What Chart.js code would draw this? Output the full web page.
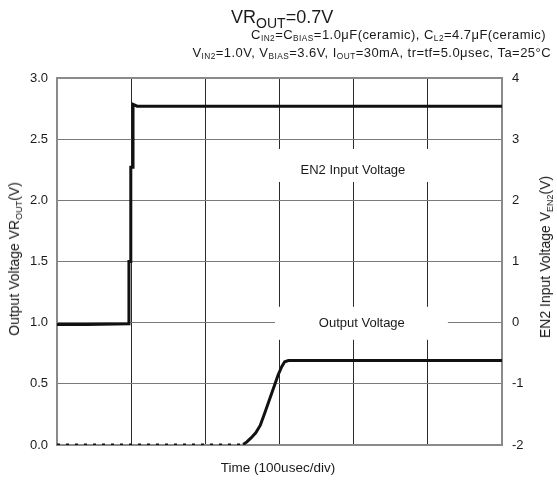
<!DOCTYPE html>
<html>
<head>
<meta charset="utf-8">
<script src="https://cdn.jsdelivr.net/npm/chart.js@4.4.1/dist/chart.umd.min.js"></script>
<style>
    body { margin: 0; background: #fff; }
    #wrap { position: relative; width: 557px; height: 482px; font-family: "Liberation Sans", Arial, sans-serif; color: #1a1a1a; }
    #wrap canvas { position: absolute; left: 0; top: 0; }
    .txt { position: absolute; white-space: nowrap; line-height: 1; }
    .txt sub { font-size: 64%; vertical-align: baseline; position: relative; top: 0.3em; }
    .main sub { font-size: 78%; top: 0.35em; }
    .rot { transform: translate(-50%, -50%) rotate(-90deg); }
</style>
</head>
<body>
<div id="wrap">
    <canvas id="chart" width="557" height="482"></canvas>
    <div class="txt main" style="left:231px; top:8px; font-size:18px;">VR<sub>OUT</sub>=0.7V</div>
    <div class="txt" style="right:11px; top:28px; font-size:13px; letter-spacing:0.45px;">C<sub>IN2</sub>=C<sub>BIAS</sub>=1.0μF(ceramic), C<sub>L2</sub>=4.7μF(ceramic)</div>
    <div class="txt" style="right:6px; top:46px; font-size:13px; letter-spacing:0.45px;">V<sub>IN2</sub>=1.0V, V<sub>BIAS</sub>=3.6V, I<sub>OUT</sub>=30mA, tr=tf=5.0μsec, Ta=25°C</div>
    <div class="txt rot" style="left:14px; top:259px; font-size:14px;">Output Voltage VR<sub>OUT</sub>(V)</div>
    <div class="txt rot" style="left:545px; top:257px; font-size:14px;">EN2 Input Voltage V<sub>EN2</sub>(V)</div>
    <div class="txt" style="left:278px; top:468px; font-size:13.5px; transform: translate(-50%, -50%);">Time (100usec/div)</div>
</div>
<script>
// EN2 input voltage (right axis, V) vs time (usec)
const enTime = [0, 40, 97, 97, 99.5, 99.5, 102.5, 102.5, 108, 150, 600];
const enVolt = [-0.03, -0.03, -0.02, 1.0, 1.0, 2.54, 2.54, 3.57, 3.54, 3.54, 3.54];

// output voltage VR_OUT (left axis, V) vs time (usec)
const outTime = [0, 251, 256, 262, 268, 274, 280, 287, 294, 298, 303, 307, 312, 320, 600];
const outVolt = [0.005, 0.005, 0.025, 0.06, 0.1, 0.16, 0.26, 0.38, 0.50, 0.57, 0.64, 0.68, 0.69, 0.69, 0.69];

const leftTicks = ['0.0', '0.5', '1.0', '1.5', '2.0', '2.5', '3.0'];
const rightTicks = ['-2', '-1', '0', '1', '2', '3', '4'];

const FONT = '"Liberation Sans", Arial, sans-serif';

// white label boxes that cut the grid, in data units (x: usec, y: left axis V)
const plotLabels = [
    { text: 'EN2 Input Voltage', tx: 399, vy: 2.245, t0: 290, t1: 511, v0: 2.42, v1: 2.15 },
    { text: 'Output Voltage', tx: 411, vy: 0.995, t0: 294, t1: 527, v0: 1.13, v1: 0.86 }
];

const labelPlugin = {
    id: 'labelPlugin',
    beforeDatasetsDraw(chart) {
        const { ctx, chartArea, scales: { x, y } } = chart;
        ctx.save();
        plotLabels.forEach(l => {
            const x0 = x.getPixelForValue(l.t0), x1 = x.getPixelForValue(l.t1);
            const y0 = y.getPixelForValue(l.v0), y1 = y.getPixelForValue(l.v1);
            ctx.fillStyle = '#ffffff';
            ctx.fillRect(x0, y0, x1 - x0, y1 - y0);
            ctx.fillStyle = '#1a1a1a';
            ctx.font = '13px ' + FONT;
            ctx.textAlign = 'center';
            ctx.textBaseline = 'middle';
            ctx.fillText(l.text, x.getPixelForValue(l.tx), y.getPixelForValue(l.vy));
        });
        ctx.strokeStyle = '#8a8a8a';
        ctx.lineWidth = 2;
        ctx.strokeRect(chartArea.left, chartArea.top, chartArea.right - chartArea.left, chartArea.bottom - chartArea.top);
        ctx.restore();
    }
};

const toPoints = (xs, ys) => xs.map((t, i) => ({ x: t, y: ys[i] }));

new Chart(document.getElementById('chart'), {
    type: 'line',
    data: {
        datasets: [
            {
                label: 'EN2 Input Voltage',
                data: toPoints(enTime, enVolt),
                yAxisID: 'y2',
                borderColor: '#111111',
                borderWidth: 3,
                pointRadius: 0,
                tension: 0
            },
            {
                label: 'Output Voltage',
                data: toPoints(outTime, outVolt),
                yAxisID: 'y',
                borderColor: '#111111',
                borderWidth: 3,
                pointRadius: 0,
                tension: 0,
                segment: {
                    borderDash: c => c.p1.parsed.x <= 251 ? [3, 6] : undefined,
                    borderWidth: c => c.p1.parsed.x <= 251 ? 2 : 3
                }
            }
        ]
    },
    options: {
        responsive: false,
        animation: false,
        devicePixelRatio: 1,
        layout: { padding: { top: 78, left: 0, right: 0, bottom: 0 } },
        plugins: {
            legend: { display: false },
            tooltip: { enabled: false }
        },
        scales: {
            x: {
                type: 'linear',
                min: 0,
                max: 600,
                ticks: { stepSize: 100, display: false },
                grid: { color: '#2a2a2a', lineWidth: 1, drawTicks: false },
                border: { display: false },
                afterFit: s => { s.height = 37; }
            },
            y: {
                position: 'left',
                min: 0,
                max: 3,
                ticks: {
                    stepSize: 0.5,
                    padding: 9,
                    color: '#1a1a1a',
                    font: { family: FONT, size: 13 },
                    callback: (v, i) => leftTicks[i]
                },
                grid: { color: '#7a7a7a', lineWidth: 1, drawTicks: false },
                border: { display: false },
                afterFit: s => { s.width = 57; }
            },
            y2: {
                position: 'right',
                min: -2,
                max: 4,
                ticks: {
                    stepSize: 1,
                    padding: 10,
                    color: '#1a1a1a',
                    font: { family: FONT, size: 13 },
                    callback: (v, i) => rightTicks[i]
                },
                grid: { display: false, drawTicks: false },
                border: { display: false },
                afterFit: s => { s.width = 55; }
            }
        }
    },
    plugins: [labelPlugin]
});
</script>
</body>
</html>
